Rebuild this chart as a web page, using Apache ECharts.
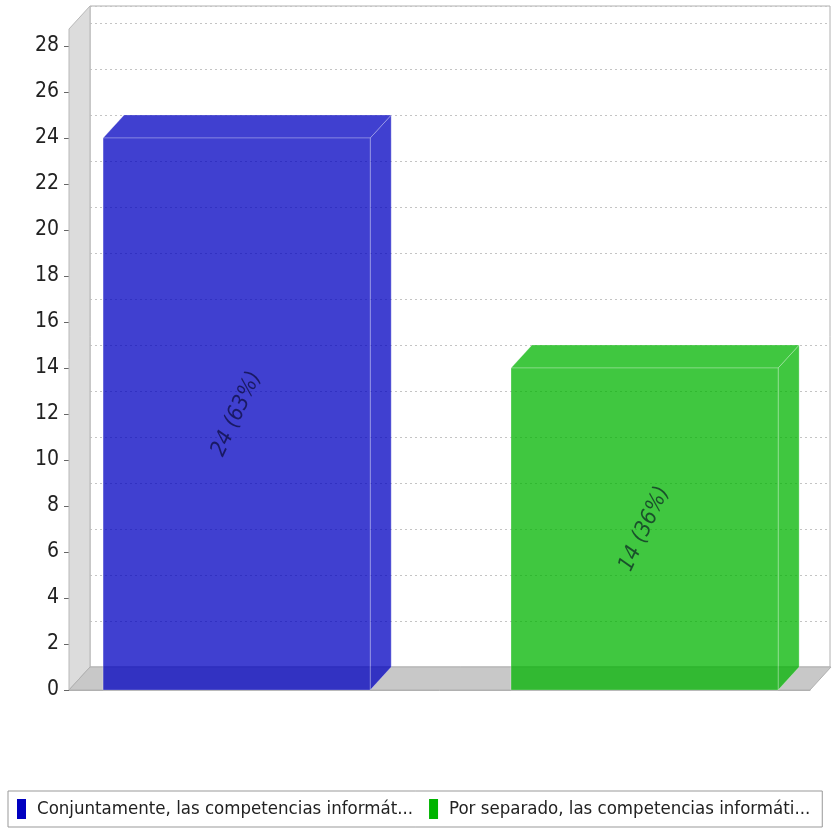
<!DOCTYPE html>
<html><head><meta charset="utf-8">
<script src="https://cdn.jsdelivr.net/npm/echarts@6/dist/echarts.min.js"></script>
<style>html,body{margin:0;padding:0;background:#fff}#c{width:840px;height:834px}</style>
</head><body><div id="c"></div><script>
// ---- data ----
const categories = ['Respuestas'];
const seriesNames = ['Conjuntamente, las competencias informát...', 'Por separado, las competencias informáti...'];
const values = [24, 14];
const yTicks = [0, 2, 4, 6, 8, 10, 12, 14, 16, 18, 20, 22, 24, 26, 28];
const yMax = 28.74;
const seriesColors = ['#0000c0', '#00b400'];

// ---- layout / style ----
const DX = 21, DY = -23;
const FONT = '"DejaVu Sans Condensed", "Liberation Sans Narrow", "DejaVu Sans", sans-serif';
const LM = 0.046, BW = 0.3605, GAP = 0.19;
const total = values.reduce((a, b) => a + b, 0);

function barRender(si) {
  return function (params, api) {
    const catW = api.size([1, 0])[0];
    const basePt = api.coord([api.value(0), 0]);
    const topPt = api.coord([api.value(0), api.value(1)]);
    const x0 = basePt[0] - catW / 2 + catW * (LM + si * (BW + GAP));
    const w = catW * BW;
    const top = topPt[1], base = basePt[1];
    const col = seriesColors[si];
    const v = api.value(1);
    const label = v + ' (' + Math.floor(v / total * 100) + '%)';
    const edge = 'rgba(255,255,255,0.35)';
    return {
      type: 'group',
      children: [
        { type: 'polygon', shape: { points: [[x0 + w, top], [x0 + w + DX, top + DY], [x0 + w + DX, base + DY], [x0 + w, base]] },
          style: { fill: col, opacity: 0.75, stroke: edge, lineWidth: 1 } },
        { type: 'polygon', shape: { points: [[x0, top], [x0 + DX, top + DY], [x0 + w + DX, top + DY], [x0 + w, top]] },
          style: { fill: col, opacity: 0.75, stroke: edge, lineWidth: 1 } },
        { type: 'rect', shape: { x: x0, y: top, width: w, height: base - top },
          style: { fill: col, opacity: 0.75, stroke: edge, lineWidth: 1 } },
        { type: 'text', x: x0 + w / 2, y: (top + base) / 2, rotation: 65 * Math.PI / 180,
          style: { text: label, fill: 'rgba(0,0,30,0.6)', font: 'italic 22px "DejaVu Sans Condensed", "DejaVu Sans", sans-serif',
                   align: 'center', verticalAlign: 'middle' } }
      ]
    };
  };
}

function wallRender(params, api) {
  const cs = params.coordSys;
  const x = cs.x, y = cs.y, w = cs.width, h = cs.height;
  return {
    type: 'group',
    children: [
      { type: 'polygon', shape: { points: [[x, y], [x + DX, y + DY], [x + DX, y + h + DY], [x, y + h]] },
        style: { fill: '#dcdcdc', stroke: '#b8b8b8', lineWidth: 1 } },
      { type: 'polygon', shape: { points: [[x, y + h], [x + DX, y + h + DY], [x + w + DX, y + h + DY], [x + w, y + h]] },
        style: { fill: '#c8c8c8', stroke: '#b0b0b0', lineWidth: 1 } }
    ]
  };
}

const chart = echarts.init(document.getElementById('c'), null, { renderer: 'canvas' });
const series = [
  { type: 'custom', name: '_walls', xAxisIndex: 0, yAxisIndex: 0, renderItem: wallRender, data: [[0, 0]], z: 1, silent: true }
];
seriesNames.forEach((n, i) => {
  series.push({ type: 'custom', name: n, xAxisIndex: 0, yAxisIndex: 0, renderItem: barRender(i),
    data: [[0, values[i]]], encode: { x: 0, y: 1 }, itemStyle: { color: seriesColors[i] }, z: 2 + i });
});

chart.setOption({
  backgroundColor: '#ffffff',
  animation: false,
  grid: [
    { left: 69, right: 30, top: 29, bottom: 144 },
    { left: 90, right: 10, top: 6, bottom: 167, show: true, backgroundColor: '#ffffff', borderColor: '#b0b0b0', borderWidth: 1, z: 0 }
  ],
  xAxis: [
    { type: 'category', gridIndex: 0, data: categories, axisLine: { show: true, lineStyle: { color: '#b0b0b0' } },
      axisTick: { show: false }, axisLabel: { show: false }, splitLine: { show: false } },
    { type: 'category', gridIndex: 1, data: categories, show: false }
  ],
  yAxis: [
    { type: 'value', gridIndex: 0, min: 0, max: yMax, interval: 2,
      axisLine: { show: true, lineStyle: { color: '#a8a8a8' } },
      axisTick: { show: true, length: 5, lineStyle: { color: '#666' }, customValues: yTicks },
      axisLabel: { show: true, margin: 10, color: '#222', fontFamily: FONT, fontSize: 21, customValues: yTicks },
      splitLine: { show: false } },
    { type: 'value', gridIndex: 1, min: 0, max: yMax, interval: 2,
      axisLine: { show: false }, axisTick: { show: false }, axisLabel: { show: false },
      splitLine: { show: true, lineStyle: { color: '#c4c4c4', type: [2, 3], width: 1 } } }
  ],
  legend: {
    data: seriesNames,
    left: 8, top: 791, width: 830,
    orient: 'horizontal',
    icon: 'rect', itemWidth: 9, itemHeight: 20, itemGap: 16,
    padding: [8, 12, 8, 9],
    borderColor: '#999', borderWidth: 1,
    textStyle: { fontFamily: FONT, fontSize: 18.5, color: '#222', padding: [0, 0, 0, 6] }
  },
  series: series
});
</script></body></html>
